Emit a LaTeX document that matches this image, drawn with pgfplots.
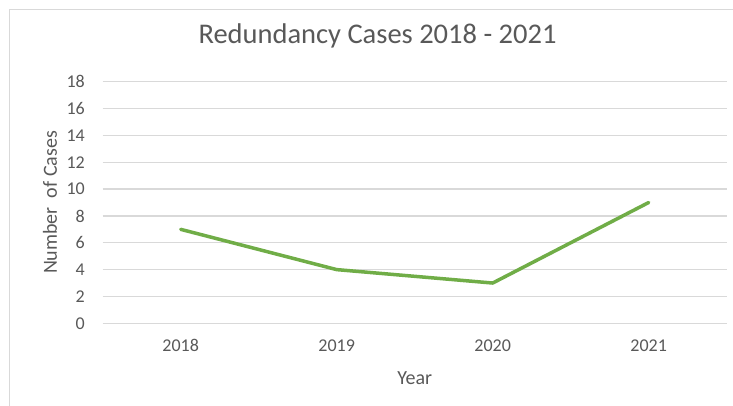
\documentclass[border=0pt]{standalone}
\usepackage{pgfplots}
\pgfplotsset{compat=1.18}
\usepackage{fontspec}
\setmainfont{Carlito}
\definecolor{txtgray}{HTML}{595959}
\definecolor{gridgray}{HTML}{D9D9D9}
\definecolor{linegreen}{HTML}{70AD47}
\begin{document}
\begin{tikzpicture}
\useasboundingbox (0pt,0pt) rectangle (733pt,405pt);
\fill[white] (0pt,0pt) rectangle (733pt,405pt);
\draw[gridgray, line width=1.2pt] (9.5pt,-20pt) rectangle (760pt,395.5pt);
\begin{axis}[
  at={(102.7pt,81.7pt)}, anchor=south west,
  scale only axis, width=624pt, height=241.6pt,
  xmin=-0.5, xmax=3.5, ymin=0, ymax=18,
  xtick={0,1,2,3}, xticklabels={2018,2019,2020,2021},
  ytick={0,2,...,18},
  axis x line*=bottom, axis y line*=left,
  axis line style={draw=none},
  major tick length=0pt,
  ymajorgrids=true, xmajorgrids=false,
  major grid style={draw=gridgray, line width=1.3pt},
  /pgf/number format/assume math mode=true,
  tick label style={font=\fontsize{18}{21}\selectfont, text=txtgray},
  yticklabel style={anchor=east, inner sep=0pt, xshift=-17.7pt},
  xticklabel style={anchor=north, inner sep=0pt, yshift=-16pt},
  title={Redundancy Cases 2018 - 2021},
  title style={at={(axis description cs:0.4404,1.134)}, anchor=base, inner sep=0pt, font=\fontsize{28.5}{33}\selectfont, text=txtgray},
  xlabel={Year},
  xlabel style={at={(axis description cs:0.5,-0.2264)}, anchor=center, font=\fontsize{20}{24}\selectfont, text=txtgray},
  ylabel={Number\ \ of Cases},
  ylabel style={at={(axis description cs:-0.0845,0.5)}, anchor=center, rotate=0, font=\fontsize{20}{24}\selectfont, text=txtgray},
  clip=false,
]
\addplot[linegreen, line width=3.5pt, line cap=round, line join=round] coordinates {(0,7) (1,4) (2,3) (3,9)};
\end{axis}
\end{tikzpicture}
\end{document}
